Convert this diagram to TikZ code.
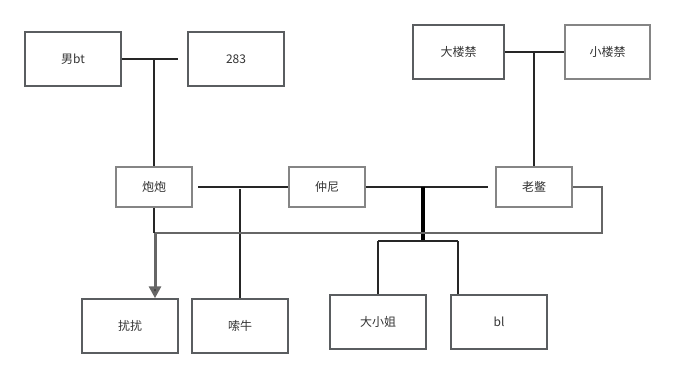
\documentclass[tikz,border=0pt]{standalone}
\usepackage{fontspec}
\setmainfont{Noto Sans CJK SC}
\usepackage{tikz}
\usetikzlibrary{positioning,arrows.meta,calc}
\definecolor{bdark}{HTML}{5A5D60}
\definecolor{blight}{HTML}{858585}
\definecolor{txt}{HTML}{333333}
\definecolor{loopc}{HTML}{666666}
\tikzset{
  pbox/.style={draw=bdark, line width=1.5pt, minimum width=96pt, minimum height=54pt, font=\fontsize{12}{14}\selectfont, text=txt, inner sep=0pt},
  sbox/.style={pbox, draw=blight, minimum width=76pt, minimum height=40pt},
  link/.style={line width=1.8pt, draw=black!85},
  loopl/.style={line width=1.4pt, draw=loopc},
  arr/.style={-{Triangle[length=12pt, width=12pt, fill=black!80]}, line width=3pt, draw=loopc},
}
\begin{document}
\begin{tikzpicture}[x=1pt, y=-1pt]
\useasboundingbox (0,0) rectangle (675,378);
% grandparents
\node[pbox] (nanbt) at (73,59) {男bt};
\node[pbox] (n283) at (236,59) {283};
\node[pbox, minimum width=91pt] (dalou) at (458.5,52) {大楼禁};
\node[pbox, draw=blight, minimum width=85pt] (xiaolou) at (607.5,52) {小楼禁};
% parents
\node[sbox] (paopao) at (154,187) {炮炮};
\node[sbox] (zhongni) at (327,187) {仲尼};
\node[sbox] (laobie) at (534,187) {老鳖};
% children
\node[pbox] (raorao) at (130,326) {扰扰};
\node[pbox] (suoniu) at (240,326) {嗦牛};
\node[pbox] (dxj) at (378,322) {大小姐};
\node[pbox] (bl) at (499,322) {bl};
% junctions
\coordinate (m1) at (154,59);
\coordinate (m1e) at (178,59);
\coordinate (m2) at (534,52);
\coordinate (m3s) at (198,187);
\coordinate (m3) at (240,189);
\coordinate (m4) at (423,187);
\coordinate (m4e) at (488,187);
\coordinate (m4b) at (423,241);
\coordinate (kl) at (378,241);
\coordinate (kr) at (458,241);
\coordinate (lp) at (602,187);
\coordinate (lq) at (155,233);
\coordinate (pb) at (154,233);
% marriages and descent
\draw[link] (nanbt.east) -- (m1e);
\draw[link] (m1) -- (paopao.north);
\draw[link] (dalou.east) -- (xiaolou.west);
\draw[link] (m2) -- (laobie.north);
\draw[link] (m3s) -- (zhongni.west);
\draw[link] (m3) -- (suoniu.north);
\draw[link] (zhongni.east) -- (m4e);
\draw[link, line width=3.5pt, draw=black] (m4) -- (m4b);
\draw[link] (kl) -- (kr);
\draw[link] (kl) -- (dxj.north-|kl);
\draw[link] (kr) -- (bl.north-|kr);
\draw[link] (paopao.south) -- (pb);
\draw[loopl] (laobie.east) -- (lp) |- (lq);
\draw[arr] (lq) -- (raorao.north-|lq);
\end{tikzpicture}
\end{document}
